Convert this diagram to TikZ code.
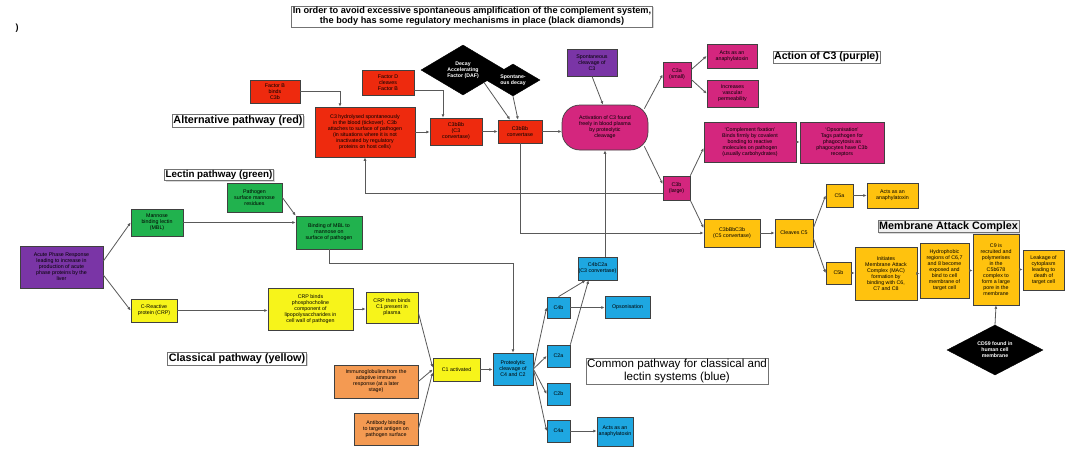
\documentclass[tikz,border=0pt]{standalone}
\usepackage{fontspec}
\setmainfont{Liberation Sans}
\usetikzlibrary{shapes.geometric,arrows.meta,calc,shadows}
\definecolor{redF}{HTML}{EE2A0E}
\definecolor{pinkF}{HTML}{D4267E}
\definecolor{purpleF}{HTML}{7A35A6}
\definecolor{greenF}{HTML}{21B24E}
\definecolor{yellowF}{HTML}{F7F41A}
\definecolor{orangeF}{HTML}{F49A52}
\definecolor{goldF}{HTML}{FFC20E}
\definecolor{blueF}{HTML}{1EA7E1}
\tikzset{
  box/.style={draw=black!75, line width=0.7pt, align=center, inner sep=0.5pt,
    font=\fontsize{5.3}{6}\selectfont, text=black},
  sz/.style 2 args={minimum width=#1pt, minimum height=#2pt},
  conn/.style={draw=black!65, line width=0.8pt, -{Latex[length=3.4pt,width=3pt]}},
  dia/.style={diamond, fill=black, draw=black, text=white, align=center, inner sep=0pt,
    aspect=1.7, font=\fontsize{5.2}{6}\selectfont\bfseries},
  lbl/.style={draw=black!55, line width=0.6pt, fill=white, inner sep=1.2pt, align=center,
    drop shadow={shadow xshift=1.2pt, shadow yshift=-1.2pt, fill=black!30},
    font=\fontsize{10.8}{12}\selectfont\bfseries},
}
\begin{document}
\begin{tikzpicture}[x=1pt,y=-1pt]
\path[use as bounding box, fill=white] (0,0) rectangle (1066,448);

\node[font=\bfseries\fontsize{9}{10}\selectfont] (mark) at (17,28) {)};

% ---------- labels ----------
\node[lbl, font=\fontsize{9.2}{10}\selectfont\bfseries] (note) at (472,16.5)
  {In order to avoid excessive spontaneous amplification of the complement system,\\
   the body has some regulatory mechanisms in place (black diamonds)};
\node[lbl] (altL) at (238,121) {Alternative pathway (red)};
\node[lbl, font=\fontsize{9.8}{11}\selectfont\bfseries] (lecL) at (219,175) {Lectin pathway (green)};
\node[lbl] (clsL) at (237,359) {Classical pathway (yellow)};
\node[lbl, font=\fontsize{11.6}{12.5}\selectfont] (comL) at (677,371) {Common pathway for classical and\\lectin systems (blue)};
\node[lbl, font=\fontsize{10.6}{12}\selectfont\bfseries] (c3L) at (826.5,57) {Action of C3 (purple)};
\node[lbl, font=\fontsize{10.8}{12}\selectfont\bfseries, fill=black!6] (macL) at (948.5,226.5) {Membrane Attack Complex};

% ---------- alternative pathway (red) ----------
\node[box, fill=redF, sz={50}{23}] (fA) at (275,91.5) {Factor B\\binds\\C3b};
\node[box, fill=redF, sz={52}{25}] (fB) at (388,82.5) {Factor D\\cleaves\\Factor B};
\node[box, fill=redF, sz={100}{50}] (big) at (365,132)
  {C3 hydrolysed spontaneously\\in the blood (tickover). C3b\\attaches to surface of pathogen\\
   (in situations where it is not\\inactivated by regulatory\\proteins on host cells)};
\node[box, fill=redF, sz={52}{27}] (rC) at (456,131.5) {C3bBb\\(C3\\convertase)};
\node[box, fill=redF, sz={44}{23}] (rD) at (520,131.5) {C3bBb\\convertase};
\node[dia, sz={84}{50}] (daf) at (463,70) {Decay\\Accelerating\\Factor (DAF)};
\node[dia, sz={54}{32}] (sd) at (513,80) {Spontane-\\ous decay};

% ---------- action of C3 (purple) ----------
\node[box, fill=purpleF, sz={50}{27}] (pTop) at (592,62.5) {Spontaneous\\cleavage of\\C3};
\node[box, fill=pinkF, sz={86}{45}, rounded corners=18pt] (ell) at (605,127.5)
  {Activation of C3 found\\freely in blood plasma\\by proteolytic\\cleavage};
\node[box, fill=pinkF, sz={28}{25}] (c3a) at (677,74.5) {C3a\\(small)};
\node[box, fill=pinkF, sz={50}{24}] (an1) at (732,56) {Acts as an\\anaphylatoxin};
\node[box, fill=pinkF, sz={51}{27}] (inc) at (732.5,93.5) {Increases\\vascular\\permeability};
\node[box, fill=pinkF, sz={27}{24}] (c3b) at (676.5,188) {C3b\\(large)};
\node[box, fill=pinkF, sz={92}{40}] (fix) at (750,142)
  {`Complement fixation'\\Binds firmly by covalent\\bonding to reactive\\molecules on pathogen\\(usually carbohydrates)};
\node[box, fill=pinkF, sz={84}{41}] (ops1) at (842,142.5)
  {`Opsonisation'\\Tags pathogen for\\phagocytosis as\\phagocytes have C3b\\receptors};

% ---------- C5 / MAC (gold) ----------
\node[box, fill=goldF, sz={56}{28}] (c5c) at (732,233) {C3bBbC3b\\(C5 convertase)};
\node[box, fill=goldF, sz={38}{28}] (clv) at (794,233) {Cleaves C5};
\node[box, fill=goldF, sz={27}{23}] (c5a) at (839.5,195.5) {C5a};
\node[box, fill=goldF, sz={51}{25}] (an2) at (892.5,195.5) {Acts as an\\anaphylatoxin};
\node[box, fill=goldF, sz={25}{22}] (c5b) at (838.5,273) {C5b};
\node[box, fill=goldF, sz={62}{53}] (m1) at (886,273.5)
  {Initiates\\Membrane Attack\\Complex (MAC)\\formation by\\binding with C6,\\C7 and C8};
\node[box, fill=goldF, sz={49}{55}] (m2) at (944.5,270.5)
  {Hydrophobic\\regions of C6,7\\and 8 become\\exposed and\\bind to cell\\membrane of\\target cell};
\node[box, fill=goldF, sz={46}{71}] (m3) at (996,269.5)
  {C9 is\\recruited and\\polymerises\\in the\\C5b678\\complex to\\form a large\\pore in the\\membrane};
\node[box, fill=goldF, sz={41}{40}] (m4) at (1043.5,270) {Leakage of\\cytoplasm\\leading to\\death of\\target cell};
\node[dia, sz={96}{50}] (cd59) at (995,350) {CD59 found in\\human cell\\membrane};

% ---------- lectin pathway (green) ----------
\node[box, fill=purpleF, sz={83}{42}] (acute) at (61.5,267)
  {Acute Phase Response\\leading to increase in\\production of acute\\phase proteins by the\\liver};
\node[box, fill=greenF, sz={52}{27}] (mbl) at (157,222.5) {Mannose\\binding lectin\\(MBL)};
\node[box, fill=greenF, sz={55}{29}] (psm) at (254.5,197.5) {Pathogen\\surface mannose\\residues};
\node[box, fill=greenF, sz={66}{33}] (bmbl) at (329,232.5) {Binding of MBL to\\mannose on\\surface of pathogen};

% ---------- classical pathway (yellow/orange) ----------
\node[box, fill=yellowF, sz={46}{23}] (crp) at (154,310.5) {C-Reactive\\protein (CRP)};
\node[box, fill=yellowF, sz={85}{42}] (crpb) at (310.5,309)
  {CRP binds\\phosphocholine\\component of\\lipopolysaccharides in\\cell wall of pathogen};
\node[box, fill=yellowF, sz={52}{31}] (crpt) at (392,307.5) {CRP then binds\\C1 present in\\plasma};
\node[box, fill=yellowF, sz={47}{23}] (c1) at (456.5,369.5) {C1 activated};
\node[box, fill=orangeF, sz={84}{33}] (imm) at (376,381.5)
  {Immunoglobulins from the\\adaptive immune\\response (at a later\\stage)};
\node[box, fill=orangeF, sz={64}{32}] (ab) at (386,429) {Antibody binding\\to target antigen on\\pathogen surface};

% ---------- common pathway (blue) ----------
\node[box, fill=blueF, sz={40}{32}] (prot) at (513,369) {Proteolytic\\cleavage of\\C4 and C2};
\node[box, fill=blueF, sz={39}{23}] (c3c) at (597.5,268.5) {C4bC2a\\(C3 convertase)};
\node[box, fill=blueF, sz={23}{21}] (c4b) at (558.5,307.5) {C4b};
\node[box, fill=blueF, sz={45}{22}] (ops2) at (627.5,307) {Opsonisation};
\node[box, fill=blueF, sz={23}{22}] (c2a) at (558.5,356) {C2a};
\node[box, fill=blueF, sz={23}{22}] (c2b) at (558.5,394) {C2b};
\node[box, fill=blueF, sz={23}{22}] (c4a) at (558.5,431) {C4a};
\node[box, fill=blueF, sz={36}{29}] (act3) at (615,431.5) {Acts as an\\anaphylatoxin};

% ---------- connectors ----------
\draw[conn] (fA.east) -| ($(big.north)+(-25,0)$);
\draw[conn] ($(fB.east)+(0,8)$) -| ($(rC.north)+(-13,0)$);
\draw[conn] (big.east) -- (big.east -| rC.west);
\draw[conn] (rC.east) -- (rC.east -| rD.west);
\draw[conn] (rD.east) -- (rD.east -| ell.west);
\draw[conn] (daf.south east) -- ($(rD.north)+(-10,0)$);
\draw[conn] (sd.south) -- ($(rD.north)+(-2,0)$);
\draw[conn] (pTop.south) -- ($(ell.north)+(-2,0)$);
\draw[conn] ($(ell.north east)+(-4,4)$) -- (c3a.west);
\draw[conn] ($(ell.south east)+(-4,-4)$) -- ($(c3b.west)+(0,-4)$);
\draw[conn] ($(c3a.east)+(0,-5)$) -- (an1.west);
\draw[conn] ($(c3a.east)+(0,5)$) -- (inc.west);
\draw[conn] (c3b.north east) -- ($(fix.west)+(0,6)$);
\draw[conn] (fix.east) -- (fix.east -| ops1.west);
\draw[conn] (c3b.south east) -- ($(c5c.west)+(0,-5)$);
\draw[conn] ($(c3b.west)+(0,5)$) -| (big.south);
\draw[conn] (rD.south) |- (c5c.west);
\draw[conn] (c5c.east) -- (c5c.east -| clv.west);
\draw[conn] ($(clv.east)+(0,-5)$) -- (c5a.west);
\draw[conn] ($(clv.east)+(0,5)$) -- (c5b.west);
\draw[conn] (c5a.east) -- (c5a.east -| an2.west);
\draw[conn] (c5b.east) -- (c5b.east -| m1.west);
\draw[conn] (m1.east) -- (m1.east -| m2.west);
\draw[conn] (m2.east) -- (m2.east -| m3.west);
\draw[conn] (m3.east) -- (m3.east -| m4.west);
\draw[conn] (cd59.north) -- (m3.south);

\draw[conn] ($(acute.east)+(0,-6)$) -- (mbl.west);
\draw[conn] ($(acute.east)+(0,8)$) -- (crp.west);
\draw[conn] (mbl.east) -- (mbl.east -| bmbl.west);
\draw[conn] (psm.east) -- (bmbl.north west);
\draw[conn] (bmbl.south) -- ++(0,14) -| (prot.north);
\draw[conn] (crp.east) -- (crp.east -| crpb.west);
\draw[conn] (crpb.east) -- (crpb.east -| crpt.west);
\draw[conn] ($(crpt.east)+(0,5)$) -- ($(c1.west)+(0,-2)$);
\draw[conn] (imm.east) -- (c1.west);
\draw[conn] (ab.east) -- ($(c1.west)+(0,3)$);
\draw[conn] (c1.east) -- (c1.east -| prot.west);
\draw[conn] (prot.east) -- (c4b.west);
\draw[conn] (prot.east) -- (c2a.west);
\draw[conn] (prot.east) -- (c2b.west);
\draw[conn] (prot.east) -- (c4a.west);
\draw[conn] (c4b.north) -- ($(c3c.south)+(-12,0)$);
\draw[conn] (c2a.north east) -- ($(c3c.south)+(-9,0)$);
\draw[conn] (c3c.north -| ell.south) -- (ell.south);
\draw[conn] (c4b.east) -- (c4b.east -| ops2.west);
\draw[conn] (c4a.east) -- (c4a.east -| act3.west);
\end{tikzpicture}
\end{document}
